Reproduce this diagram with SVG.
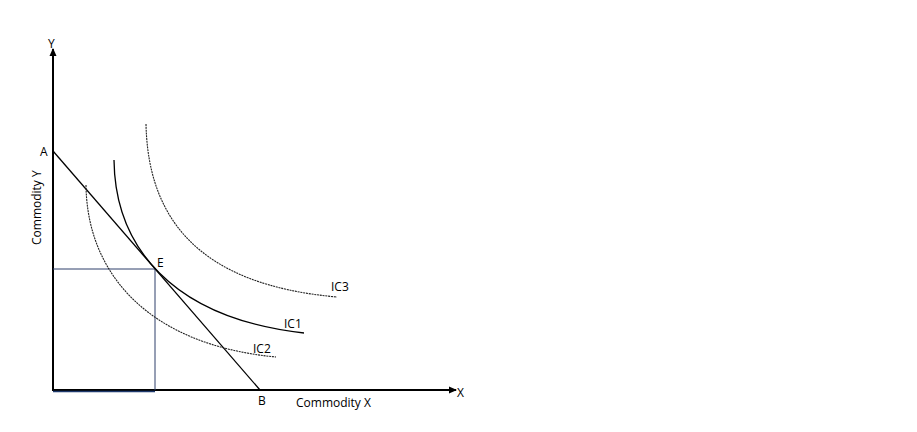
<svg xmlns="http://www.w3.org/2000/svg" width="917" height="432" viewBox="0 0 917 432">
<style>
text{font-family:"Open Sans","Liberation Sans",sans-serif;font-size:12px;fill:#000}
.axis{stroke:#000;stroke-width:2;fill:none}
.solid{stroke:#000;stroke-width:1.3;fill:none}
.dot{stroke:#222;stroke-width:1.1;fill:none;stroke-dasharray:2 0.8}
.drop{stroke:#2f3f6a;stroke-width:1;fill:none}
</style>
<defs>
<marker id="arr" markerWidth="8" markerHeight="8" refX="7" refY="4" orient="auto" markerUnits="userSpaceOnUse">
<path d="M0,0.5 L8,4 L0,7.5 Z" fill="#000"/>
</marker>
</defs>
<rect width="917" height="432" fill="#fff"/>
<g id="connectors">
<line class="axis" x1="53" y1="391" x2="53" y2="49" marker-end="url(#arr)"/>
<line class="axis" x1="52" y1="390" x2="456" y2="390" marker-end="url(#arr)"/>
<line class="drop" x1="53" y1="269" x2="155" y2="269"/>
<line class="drop" x1="155" y1="269" x2="155" y2="390"/>
<line x1="53" y1="391.5" x2="155" y2="391.5" stroke="#1f3a6e" stroke-width="1.5"/>
<line class="solid" x1="53" y1="151" x2="260" y2="390"/>
</g>
<g id="IC1"><path class="solid" d="M114,160 C115,245 170,318 304,333"/><text x="284" y="328">IC1</text></g>
<g id="IC2"><path class="dot" d="M86,185 C87,275 150,345 276,357"/><text x="253" y="353">IC2</text></g>
<g id="IC3"><path class="dot" d="M146,124 C148,220 200,285 337,297"/><text x="331" y="291">IC3</text></g>
<g id="labels">
<text x="48" y="48">Y</text>
<text x="457" y="397">X</text>
<text x="40" y="156">A</text>
<text x="157" y="267">E</text>
<text x="258" y="405">B</text>
<text x="296" y="407">Commodity X</text>
<text transform="translate(41,245) rotate(-90)">Commodity Y</text>
</g>
</svg>
